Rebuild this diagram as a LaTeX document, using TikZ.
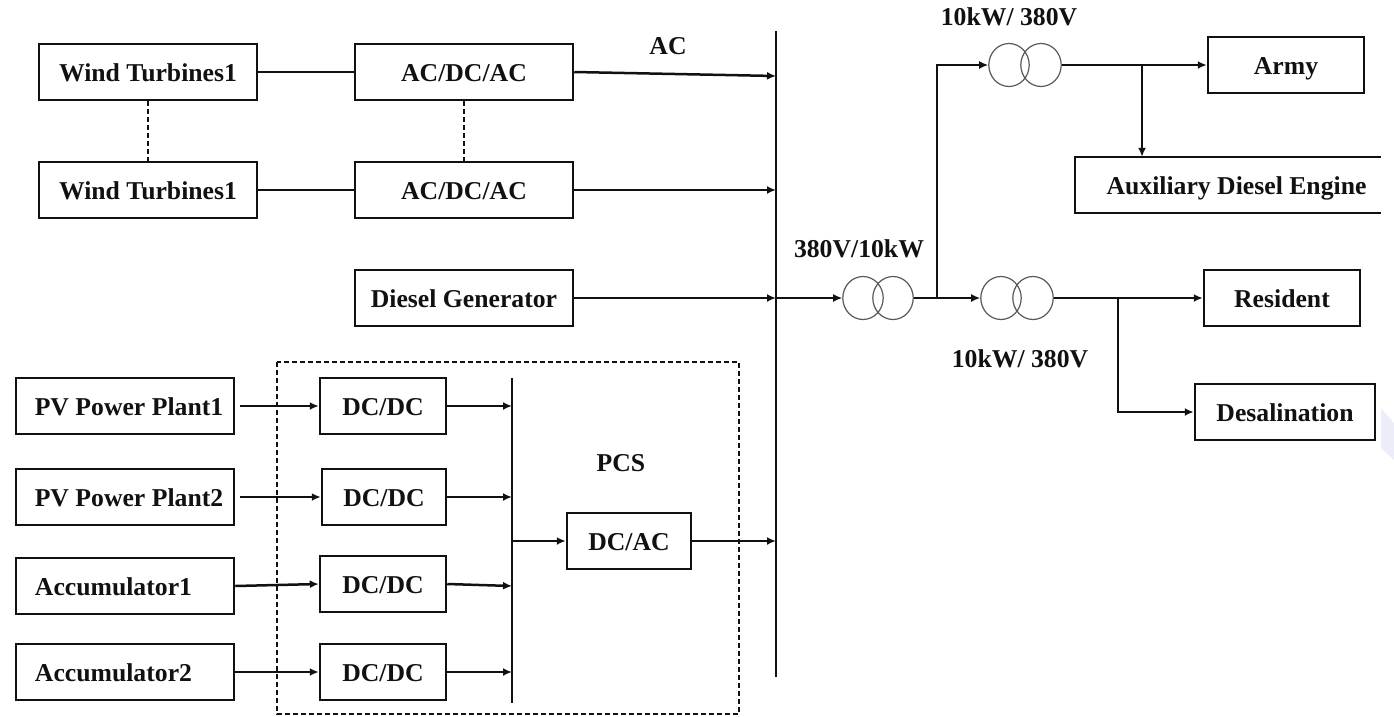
\documentclass[tikz,border=0pt]{standalone}
\usepackage{fontspec}
\setmainfont{Liberation Serif}
\usetikzlibrary{arrows.meta}
\definecolor{ink}{HTML}{111111}
\definecolor{wm}{HTML}{ECEDF8}
\tikzset{
  x=1pt,y=-1pt,
  every node/.style={font=\fontsize{25.7}{28}\selectfont\bfseries,text=ink},
  blk/.style={draw=ink,line width=2.5pt,minimum width=#1,minimum height=56pt,inner sep=0pt,anchor=center,text height=20pt,text depth=2pt},
  lbl/.style={inner sep=0pt,text height=20pt,text depth=2pt},
  lin/.style={draw=ink,line width=2.5pt},
  arr/.style={draw=ink,line width=2.5pt,-{Latex[length=9pt,width=8pt]}},
  dsh/.style={draw=ink,line width=2.1pt,dash pattern=on 5pt off 3pt},
  ring/.style={circle,draw=ink!70,line width=1.2pt,minimum size=43pt,inner sep=0pt,xscale=.94},
  bus/.style={draw=ink,line width=2.8pt},
}
\begin{document}
\begin{tikzpicture}
\useasboundingbox (0,0) rectangle (1394,716);
\fill[wm] (1381,408) -- (1394,423) -- (1394,460) -- (1381,448) -- cycle;
% left column
\node[blk=218pt] (w1) at (148,72) {Wind Turbines1};
\node[blk=218pt] (w2) at (148,190) {Wind Turbines1};
\node[blk=218pt] (c1) at (464,72) {AC/DC/AC};
\node[blk=218pt] (c2) at (464,190) {AC/DC/AC};
\node[blk=218pt] (dg) at (464,298) {Diesel Generator};
\node[blk=218pt] (pv1) at (125,406) {\hspace*{8pt}PV Power Plant1};
\node[blk=218pt] (pv2) at (125,497) {\hspace*{8pt}PV Power Plant2};
\node[blk=218pt] (ac1) at (125,586) {Accumulator1\hspace*{23pt}};
\node[blk=218pt] (ac2) at (125,672) {Accumulator2\hspace*{23pt}};
\node[blk=126pt] (d1) at (383,406) {DC/DC};
\node[blk=124pt] (d2) at (384,497) {DC/DC};
\node[blk=126pt] (d3) at (383,584) {DC/DC};
\node[blk=126pt] (d4) at (383,672) {DC/DC};
\node[blk=124pt] (da) at (629,541) {DC/AC};
\node[lbl] (pcs) at (621,462) {PCS};
\node[lbl] (aclbl) at (668,45) {AC};
% right side
\node[blk=156pt] (army) at (1286,65) {Army};
\node[lbl,minimum width=306pt,minimum height=56pt] (aux) at (1228,185) {\hspace*{17pt}Auxiliary Diesel Engine};
\draw[lin] (aux.north east) -- (aux.north west) -- (aux.south west) -- (aux.south east);
\node[blk=156pt] (res) at (1282,298) {Resident};
\node[blk=180pt] (des) at (1285,412) {Desalination};
\node[lbl] (t1) at (1009,16) {10kW/ 380V};
\node[lbl] (t2) at (859,248) {380V/10kW};
\node[lbl] (t3) at (1020,358) {10kW/ 380V};
% transformers
\node[ring] (ta1) at (1009,65) {};
\node[ring] (ta2) at (1041,65) {};
\node[ring] (tb1) at (863,298) {};
\node[ring] (tb2) at (893,298) {};
\node[ring] (tc1) at (1001,298) {};
\node[ring] (tc2) at (1033,298) {};
% buses
\coordinate (bt) at (776,31);
\coordinate (bb) at (776,677);
\draw[bus] (bt) -- (bb);
\coordinate (pt) at (512,378);
\coordinate (pb) at (512,703);
\draw[lin] (pt) -- (pb);
% dashed
\draw[dsh] (277,362) rectangle (739,714);
\draw[dsh] (w1.south) -- (w2.north);
\draw[dsh] (c1.south) -- (c2.north);
% top rows
\draw[lin] (w1.east) -- (c1.west);
\draw[lin] (w2.east) -- (c2.west);
\coordinate (b1) at (776,76);
\coordinate (b2) at (776,190);
\coordinate (b3) at (776,298);
\coordinate (b4) at (776,541);
\draw[arr] (c1.east) -- (b1);
\draw[arr] (c2.east) -- (b2);
\draw[arr] (dg.east) -- (b3);
\draw[arr] (da.east) -- (b4);
% PV rows
\draw[arr] (pv1.east) ++(5,0) -- (d1.west);
\draw[arr] (pv2.east) ++(5,0) -- (d2.west);
\draw[arr] (ac1.east) -- (d3.west);
\draw[arr] (ac2.east) -- (d4.west);
\coordinate (p1) at (512,406);
\coordinate (p2) at (512,497);
\coordinate (p3) at (512,586);
\coordinate (p4) at (512,672);
\coordinate (p5) at (512,541);
\draw[arr] (d1.east) -- (p1);
\draw[arr] (d2.east) -- (p2);
\draw[arr] (d3.east) -- (p3);
\draw[arr] (d4.east) -- (p4);
\draw[arr] (p5) -- (da.west);
% right network
\draw[arr] (b3) -- (tb1.west);
\coordinate (j1) at (937,298);
\coordinate (j2) at (937,65);
\draw[lin] (tb2.east) -- (j1);
\draw[arr] (j1) -- (tc1.west);
\draw[arr,line join=miter] (j1) -- (j2) -- (ta1.west);
\coordinate (j3) at (1142,65);
\draw[arr] (ta2.east) -- (army.west);
\draw[arr] (j3) -- (j3 |- aux.north);
\coordinate (j4) at (1118,298);
\draw[arr] (tc2.east) -- (res.west);
\draw[arr,line join=miter] (j4) |- (des.west);
\end{tikzpicture}
\end{document}
